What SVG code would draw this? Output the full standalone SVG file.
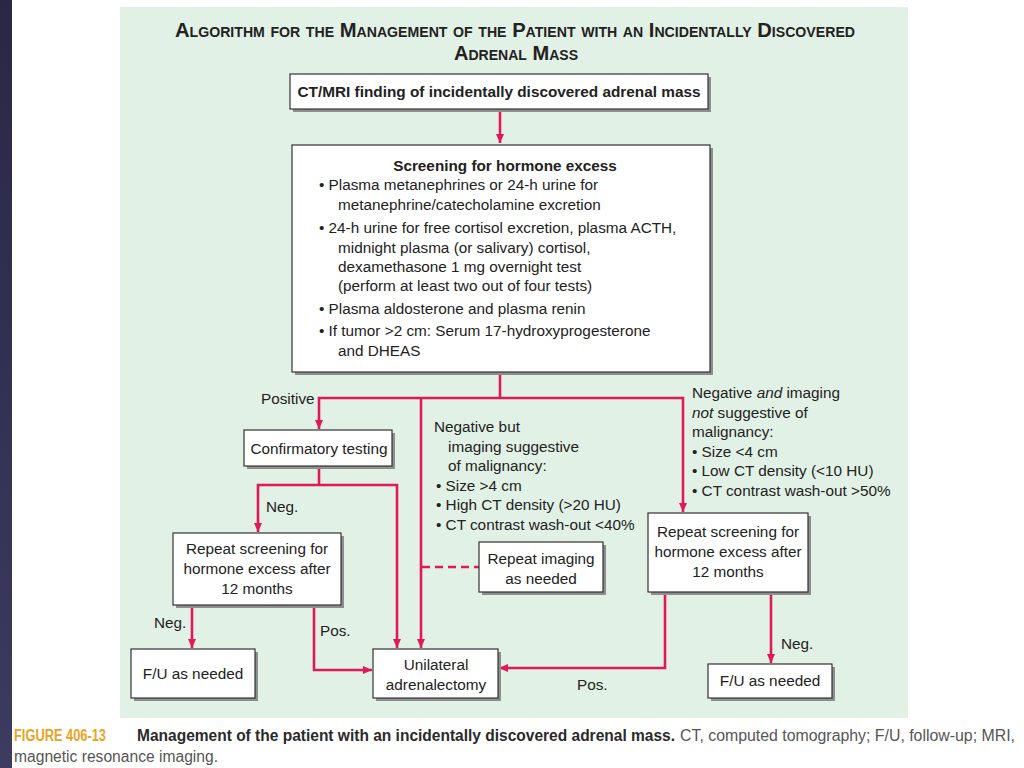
<svg xmlns="http://www.w3.org/2000/svg" width="1024" height="768" viewBox="0 0 1024 768">
<defs>
<linearGradient id="strip" x1="0" y1="0" x2="0" y2="1">
<stop offset="0" stop-color="#2a2746"/>
<stop offset="1" stop-color="#3c3b60"/>
</linearGradient>
<marker id="ah" markerUnits="userSpaceOnUse" markerWidth="10" markerHeight="8" refX="9" refY="4" orient="auto">
<path d="M0,0 L9,4 L0,8 z" fill="#e0195a"/>
</marker>
</defs>
<style>
text{font-family:"Liberation Sans",Arial,sans-serif;fill:#222;}
.t{font-size:15.3px;}
.c{text-anchor:middle;}
.b{font-weight:bold;}
.box{fill:#fff;stroke:#333;stroke-width:1.2;}
.sh{fill:#8e8e8e;}
.ln{fill:none;stroke:#e0195a;stroke-width:2.6;}
.ar{marker-end:url(#ah);}
.ds{stroke-dasharray:8,5;}
.ttl{font-weight:bold;font-size:20px;fill:#222;font-variant:small-caps;}
.cap{font-size:16px;}
</style>
<rect x="0" y="0" width="1024" height="768" fill="#fff"/>
<rect x="0" y="0" width="12" height="768" fill="url(#strip)"/>
<rect x="120" y="7" width="788" height="711" fill="#e2f1e5"/>

<g id="title">
<text class="ttl" x="175" y="37" textLength="680" lengthAdjust="spacingAndGlyphs">Algorithm for the Management of the Patient with an Incidentally Discovered</text>
<text class="ttl" x="454" y="60" textLength="124" lengthAdjust="spacingAndGlyphs">Adrenal Mass</text>
</g>

<g id="connectors">
<path class="ln ar" d="M500,110 V143"/>
<path class="ln" d="M500,372 V398"/>
<path class="ln ar" d="M500,398 H319 V429"/>
<path class="ln ar" d="M500,398 H683 V512"/>
<path class="ln ar" d="M421,398 V648"/>
<path class="ln" d="M319,466 V485"/>
<path class="ln ar" d="M319,485 H258 V532"/>
<path class="ln ar" d="M319,485 H397 V648"/>
<path class="ln ar" d="M192,605 V648"/>
<path class="ln ar" d="M314,605 V670 H372"/>
<path class="ln ds" d="M422,567 H479"/>
<path class="ln ar" d="M665,592 V668 H499"/>
<path class="ln ar" d="M771,592 V663"/>
</g>

<g id="labels">
<text class="t" x="261" y="404">Positive</text>
<text class="t" x="266" y="512">Neg.</text>
<text class="t" x="154" y="628">Neg.</text>
<text class="t" x="320" y="636">Pos.</text>
<text class="t" x="577" y="690">Pos.</text>
<text class="t" x="781" y="649">Neg.</text>
<text class="t" x="434" y="432">Negative but</text>
<text class="t" x="448" y="452">imaging suggestive</text>
<text class="t" x="448" y="471">of malignancy:</text>
<text class="t" x="436" y="491">• Size &gt;4 cm</text>
<text class="t" x="436" y="510">• High CT density (&gt;20 HU)</text>
<text class="t" x="436" y="530">• CT contrast wash-out &lt;40%</text>
<text class="t" x="692" y="398">Negative <tspan font-style="italic">and</tspan> imaging</text>
<text class="t" x="692" y="418"><tspan font-style="italic">not</tspan> suggestive of</text>
<text class="t" x="692" y="437">malignancy:</text>
<text class="t" x="692" y="457">• Size &lt;4 cm</text>
<text class="t" x="692" y="476">• Low CT density (&lt;10 HU)</text>
<text class="t" x="692" y="496">• CT contrast wash-out &gt;50%</text>
</g>

<g id="n-ct">
<rect class="sh" x="293" y="77" width="418" height="35"/>
<rect class="box" x="290" y="74" width="418" height="35"/>
<text class="t b c" x="499" y="97" font-size="15" textLength="403" lengthAdjust="spacingAndGlyphs">CT/MRI finding of incidentally discovered adrenal mass</text>
</g>

<g id="n-screen">
<rect class="sh" x="295" y="148" width="418" height="227"/>
<rect class="box" x="292" y="145" width="418" height="227"/>
<text class="t b c" x="505" y="171">Screening for hormone excess</text>
<text class="t" x="319" y="190">• Plasma metanephrines or 24-h urine for</text>
<text class="t" x="338" y="210">metanephrine/catecholamine excretion</text>
<text class="t" x="319" y="233">• 24-h urine for free cortisol excretion, plasma ACTH,</text>
<text class="t" x="338" y="253">midnight plasma (or salivary) cortisol,</text>
<text class="t" x="338" y="272">dexamethasone 1 mg overnight test</text>
<text class="t" x="338" y="291">(perform at least two out of four tests)</text>
<text class="t" x="319" y="314">• Plasma aldosterone and plasma renin</text>
<text class="t" x="319" y="336">• If tumor &gt;2 cm: Serum 17-hydroxyprogesterone</text>
<text class="t" x="338" y="356">and DHEAS</text>
</g>

<g id="n-confirm">
<rect class="sh" x="247" y="433" width="148" height="36"/>
<rect class="box" x="244" y="430" width="148" height="36"/>
<text class="t c" x="319" y="454">Confirmatory testing</text>
</g>

<g id="n-repeat-left">
<rect class="sh" x="176" y="536" width="168" height="72"/>
<rect class="box" x="173" y="533" width="168" height="72"/>
<text class="t c" x="257" y="554">Repeat screening for</text>
<text class="t c" x="257" y="574">hormone excess after</text>
<text class="t c" x="257" y="594">12 months</text>
</g>

<g id="n-imaging">
<rect class="sh" x="482" y="545" width="124" height="50"/>
<rect class="box" x="479" y="542" width="124" height="50"/>
<text class="t c" x="541" y="564">Repeat imaging</text>
<text class="t c" x="541" y="584">as needed</text>
</g>

<g id="n-repeat-right">
<rect class="sh" x="651" y="516" width="160" height="79"/>
<rect class="box" x="648" y="513" width="160" height="79"/>
<text class="t c" x="728" y="537">Repeat screening for</text>
<text class="t c" x="728" y="557">hormone excess after</text>
<text class="t c" x="728" y="577">12 months</text>
</g>

<g id="n-fu-left">
<rect class="sh" x="134" y="652" width="124" height="49"/>
<rect class="box" x="131" y="649" width="124" height="49"/>
<text class="t c" x="193" y="679">F/U as needed</text>
</g>

<g id="n-adrenalectomy">
<rect class="sh" x="376" y="652" width="125" height="49"/>
<rect class="box" x="373" y="649" width="125" height="49"/>
<text class="t c" x="436" y="670">Unilateral</text>
<text class="t c" x="436" y="690">adrenalectomy</text>
</g>

<g id="n-fu-right">
<rect class="sh" x="711" y="667" width="124" height="34"/>
<rect class="box" x="708" y="664" width="124" height="34"/>
<text class="t c" x="770" y="686">F/U as needed</text>
</g>

<g id="caption">
<text class="cap b" x="14" y="741" style="fill:#e9a324" textLength="92" lengthAdjust="spacingAndGlyphs">FIGURE 406-13</text>
<text class="cap b" x="137" y="741" style="fill:#2a2a2a" textLength="538" lengthAdjust="spacingAndGlyphs">Management of the patient with an incidentally discovered adrenal mass.</text>
<text class="cap" x="680" y="741" style="fill:#555" textLength="335" lengthAdjust="spacingAndGlyphs">CT, computed tomography; F/U, follow-up; MRI,</text>
<text class="cap" x="14" y="762" style="fill:#555" textLength="204" lengthAdjust="spacingAndGlyphs">magnetic resonance imaging.</text>
</g>
</svg>
